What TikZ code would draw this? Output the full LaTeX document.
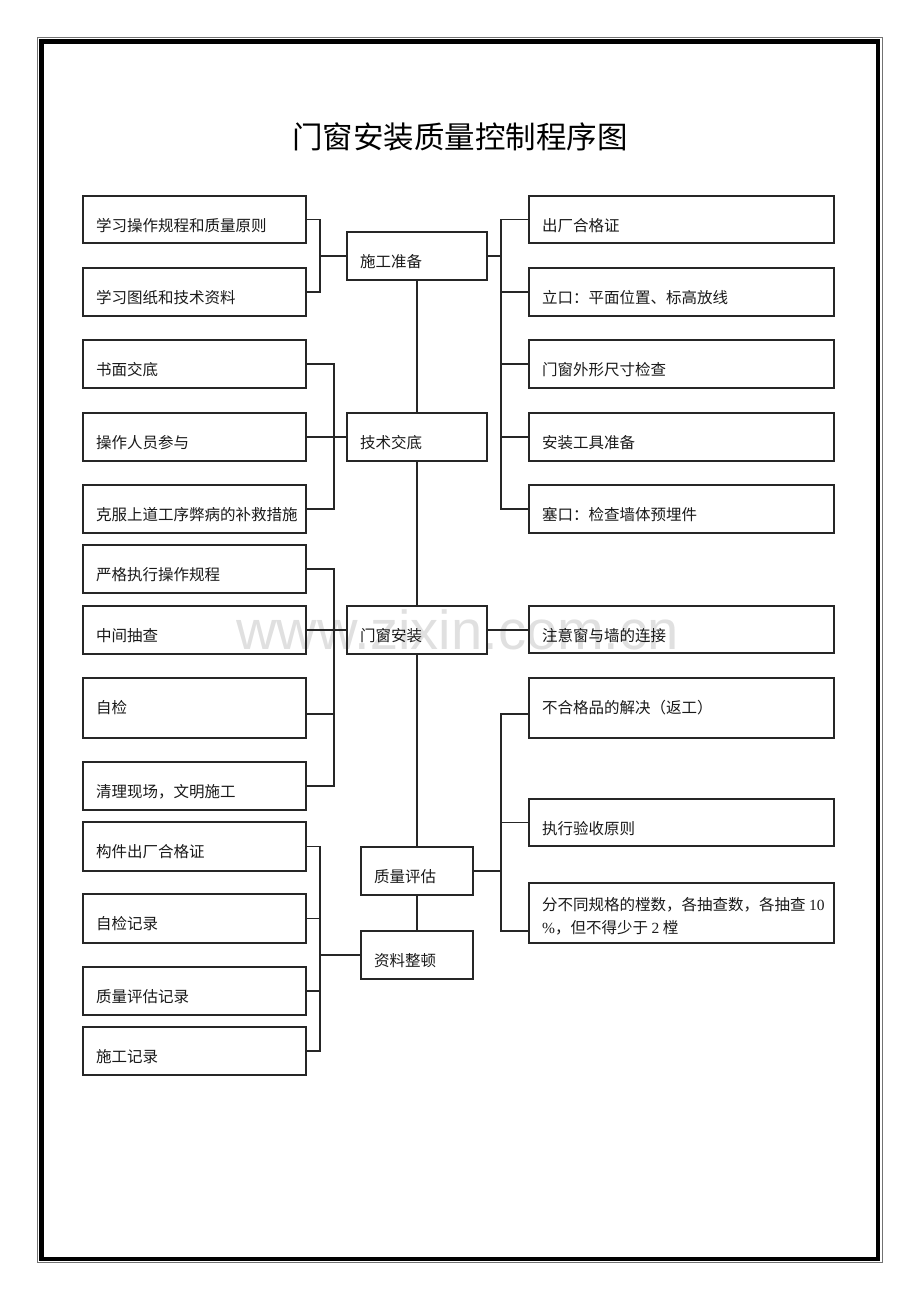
\documentclass[tikz,border=0pt]{standalone}
\usepackage{fontspec}
\setmainfont{Liberation Serif}
\newfontfamily\cjk{Noto Sans CJK SC}
\newfontfamily\wmfont{Liberation Sans}
\newcommand\mybox[6]{%
  \node[box, minimum width={#4-#2}, minimum height={#5-#3}] (#1) at ({(#2+#4)/2},{(#3+#5)/2}) {};
  \node[txt] (#1t) at ({#2+13},{#3+30}) {#6};}
\begin{document}
\begin{tikzpicture}[x=1pt,y=-1pt,
  box/.style={draw=black!85, line width=1.2pt, rectangle, inner sep=0pt, outer sep=0pt},
  txt/.style={inner sep=0pt, anchor=west, font=\fontsize{15.5}{23}\selectfont\cjk, text=black!90},
  link/.style={draw=black!85, line width=1.2pt},
  frame/.style={draw=black, line width=4.8pt},
  thinframe/.style={draw=black!55, line width=0.8pt}]
\useasboundingbox (0,0) rectangle (920,1302);
% watermark
\node[anchor=base west, inner sep=0pt, text=black!12, font=\wmfont\fontsize{55}{60}\selectfont, xscale=1.02] (wm) at (236,649) {www.zixin.com.cn};
% page frame
\draw[thinframe] (37.5,37.5) rectangle (882.5,1262.5);
\draw[frame] (41.5,41.5) rectangle (878,1259);
% title
\node[inner sep=0pt, font=\fontsize{30.5}{34}\selectfont\cjk] (title) at (460,137) {门窗安装质量控制程序图};
% left boxes
\mybox{L1}{83}{196}{306}{243}{学习操作规程和质量原则}
\mybox{L2}{83}{268}{306}{316}{学习图纸和技术资料}
\mybox{L3}{83}{340}{306}{388}{书面交底}
\mybox{L4}{83}{413}{306}{461}{操作人员参与}
\mybox{L5}{83}{485}{306}{533}{克服上道工序弊病的补救措施}
\mybox{L6}{83}{545}{306}{593}{严格执行操作规程}
\mybox{L7}{83}{606}{306}{654}{中间抽查}
\mybox{L8}{83}{678}{306}{738}{自检}
\mybox{L9}{83}{762}{306}{810}{清理现场，文明施工}
\mybox{L10}{83}{822}{306}{871}{构件出厂合格证}
\mybox{L11}{83}{894}{306}{943}{自检记录}
\mybox{L12}{83}{967}{306}{1015}{质量评估记录}
\mybox{L13}{83}{1027}{306}{1075}{施工记录}
% centre boxes
\mybox{C1}{347}{232}{487}{280}{施工准备}
\mybox{C2}{347}{413}{487}{461}{技术交底}
\mybox{C3}{347}{606}{487}{654}{门窗安装}
\mybox{C4}{361}{847}{473}{895}{质量评估}
\mybox{C5}{361}{931}{473}{979}{资料整顿}
% right boxes
\mybox{R1}{529}{196}{834}{243}{出厂合格证}
\mybox{R2}{529}{268}{834}{316}{立口：平面位置、标高放线}
\mybox{R3}{529}{340}{834}{388}{门窗外形尺寸检查}
\mybox{R4}{529}{413}{834}{461}{安装工具准备}
\mybox{R5}{529}{485}{834}{533}{塞口：检查墙体预埋件}
\mybox{R6}{529}{606}{834}{653}{注意窗与墙的连接}
\mybox{R7}{529}{678}{834}{738}{不合格品的解决（返工）}
\mybox{R8}{529}{799}{834}{846}{执行验收原则}
\node[box, minimum width=305, minimum height=60] (R9) at (681.5,913) {};
\node[txt, align=left] (R9t) at (542,916.2) {分不同规格的樘数，各抽查数，各抽查 {\rmfamily 10}\\{\rmfamily \%}，但不得少于 {\rmfamily 2} 樘};
% trunk
\draw[link] (C1.south) -- (C2.north);
\draw[link] (C2.south) -- (C3.north);
\draw[link] (C3.south) -- (C4.north);
\draw[link] (C4.south) -- (C5.north);
% bracket coordinates
\coordinate (bA) at (320,256);
\coordinate (bB) at (334,437);
\coordinate (bC) at (334,630);
\coordinate (bD) at (320,955);
\coordinate (bE) at (501,256);
\coordinate (bF) at (501,871);
% group A: L1,L2 -> C1
\draw[link] (L1.east) -| (bA);
\draw[link] (L2.east) -| (bA);
\draw[link] (bA) -- (C1.west);
% group B: L3-L5 -> C2
\draw[link] (L3.east) -| (bB);
\draw[link] (L5.east) -| (bB);
\draw[link] (L4.east) -- (C2.west);
% group C: L6-L9 -> C3
\draw[link] (L6.east) -| (bC);
\draw[link] (L9.east) -| (bC);
\draw[link] ([yshift=-6pt]L8.east) -| (bC);
\draw[link] (L7.east) -- (C3.west);
% group D: L10-L13 -> C5
\draw[link] (L10.east) -| (bD);
\draw[link] (L11.east) -| (bD);
\draw[link] (L12.east) -| (bD);
\draw[link] (L13.east) -| (bD);
\draw[link] (bD) -- (C5.west);
% group E: C1 -> R1-R5
\draw[link] (C1.east) -- (bE);
\draw[link] (bE) |- (R1.west);
\draw[link] (bE) |- (R2.west);
\draw[link] (bE) |- (R3.west);
\draw[link] (bE) |- (R4.west);
\draw[link] (bE) |- (R5.west);
% C3 -> R6
\draw[link] (C3.east) -- (R6.west |- C3.east);
% group F: C4 -> R7-R9
\draw[link] (C4.east) -- (bF);
\draw[link] (bF) |- ([yshift=-6pt]R7.west);
\draw[link] (bF) |- (R8.west);
\draw[link] (bF) |- ([yshift=-18pt]R9.west);
\end{tikzpicture}
\end{document}
